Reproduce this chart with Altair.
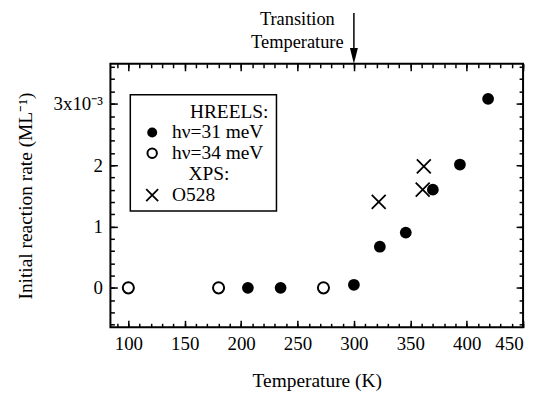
import altair as alt
import pandas as pd

# ---- data (rate in units of 1e-3 ML^-1) ----
t_31 = [206, 235, 300, 323, 346, 370, 394, 419]
r_31 = [0.0, 0.0, 0.05, 0.67, 0.90, 1.60, 2.01, 3.08]
t_34 = [100, 180, 273]
r_34 = [0.0, 0.0, 0.0]
t_xps = [322, 362, 361]
r_xps = [1.40, 1.98, 1.60]

x_major = [100, 150, 200, 250, 300, 350, 400, 450]
x_minor = list(range(90, 451, 10))
y_major = [0, 1, 2, 3]
y_minor = [round(-0.6 + 0.2 * i, 1) for i in range(22)]

legend_head = ["HREELS:", "XPS:"]
legend_items = ["h\u03bd=31 meV", "h\u03bd=34 meV", "O528"]

FONT = "Liberation Serif"
W, H = 415, 265
xs = alt.Scale(domain=[84.1, 450], nice=False, zero=False)
ys = alt.Scale(domain=[-0.643, 3.651], nice=False, zero=False)

df31 = pd.DataFrame({"T": t_31, "r": r_31})
df34 = pd.DataFrame({"T": t_34, "r": r_34})
dfx = pd.DataFrame({"T": t_xps, "r": r_xps})
carrier = pd.DataFrame({"T": [100], "r": [0.0]})
one = pd.DataFrame({"a": [0]})

X_PATH = "M-1,-1L1,1M-1,1L1,-1"


def xaxis(orient, values, size, labels, title="", **kw):
    return alt.Chart(carrier).mark_point(opacity=0).encode(
        x=alt.X("T:Q", scale=xs, axis=alt.Axis(
            orient=orient, values=values, tickSize=size, offset=-size,
            labels=labels, domain=False, grid=False, title=title,
            tickColor="black", tickWidth=1.5, **kw)),
        y=alt.Y("r:Q", scale=ys, axis=None),
    )


def yaxis(orient, values, size, labels, title="", **kw):
    return alt.Chart(carrier).mark_point(opacity=0).encode(
        x=alt.X("T:Q", scale=xs, axis=None),
        y=alt.Y("r:Q", scale=ys, axis=alt.Axis(
            orient=orient, values=values, tickSize=size, offset=-size,
            labels=labels, domain=False, grid=False, title=title,
            tickColor="black", tickWidth=1.5, **kw)),
    )


axes = [
    xaxis("bottom", x_major, 7, True, title="Temperature (K)",
          labelPadding=7, labelFontSize=19, labelFont=FONT, labelColor="black",
          titleFont=FONT, titleFontSize=19.5, titleFontWeight="normal",
          titleColor="black", titlePadding=19),
    xaxis("bottom", x_minor, 4, False),
    xaxis("top", x_major, 7, False),
    xaxis("top", x_minor, 4, False),
    yaxis("left", y_major, 7, True, title="Initial reaction rate (ML\u207b\u00b9)",
          labelPadding=8, labelFontSize=19, labelFont=FONT, labelColor="black",
          labelExpr="datum.value == 3 ? '3x10\u207b\u00b3' : format(datum.value, 'd')",
          titleFont=FONT, titleFontSize=19.5, titleFontWeight="normal",
          titleColor="black", titlePadding=18),
    yaxis("left", y_minor, 4, False),
    yaxis("right", y_major, 7, False),
    yaxis("right", y_minor, 4, False),
]

enc = dict(x=alt.X("T:Q", scale=xs, axis=None), y=alt.Y("r:Q", scale=ys, axis=None))
filled = alt.Chart(df31).mark_point(shape="circle", filled=True, color="black",
                                    size=140, opacity=1).encode(**enc)
opened = alt.Chart(df34).mark_point(shape="circle", filled=False, color="black",
                                    size=125, strokeWidth=2, opacity=1).encode(**enc)
crosses = alt.Chart(dfx).mark_point(shape=X_PATH, filled=False, color="black",
                                    size=196, strokeWidth=1.8, opacity=1).encode(**enc)

# ---- legend box ----
box = alt.Chart(one).mark_rect(fill="white", stroke="black", strokeWidth=1.5).encode(
    x=alt.value(20), x2=alt.value(167), y=alt.value(31), y2=alt.value(148))


def txt(s, x, y, align="left", size=19.5):
    return alt.Chart(one).mark_text(text=s, align=align, baseline="middle",
                                    font=FONT, fontSize=size, color="black").encode(
        x=alt.value(x), y=alt.value(y))


leg = [
    box,
    txt(legend_head[0], 159, 48, "right"),
    txt(legend_items[0], 62, 69),
    txt(legend_items[1], 62, 90),
    txt(legend_head[1], 99, 111, "center"),
    txt(legend_items[2], 62, 132),
    alt.Chart(one).mark_point(shape="circle", filled=True, color="black", size=100,
                              opacity=1).encode(x=alt.value(42), y=alt.value(69)),
    alt.Chart(one).mark_point(shape="circle", filled=False, color="black", size=90,
                              strokeWidth=2, opacity=1).encode(x=alt.value(42), y=alt.value(90)),
    alt.Chart(one).mark_point(shape=X_PATH, filled=False, color="black", size=144,
                              strokeWidth=1.8, opacity=1).encode(x=alt.value(42), y=alt.value(132)),
]

# ---- transition annotation ----
arrow_line = alt.Chart(one).mark_rule(color="black", strokeWidth=1.5).encode(
    x=alt.X(datum=300, scale=xs, axis=None), y=alt.value(-51), y2=alt.value(-10))
arrow_head = alt.Chart(one).mark_point(shape="M-0.5,-1L0.5,-1L0,1Z", filled=True,
                                       color="black", size=256, opacity=1).encode(
    x=alt.X(datum=300, scale=xs, axis=None), y=alt.value(-8))
ann = [txt("Transition", 188, -45, "center", 18.5),
       txt("Temperature", 188, -22, "center", 18.5)]

chart = alt.layer(*axes, filled, opened, crosses, *leg, arrow_line, arrow_head, *ann).resolve_axis(
    x="independent", y="independent"
).properties(
    width=W, height=H,
    autosize=alt.AutoSizeParams(type="none"),
    padding={"left": 103, "top": 55, "right": 12, "bottom": 76},
).configure(background="white").configure_view(stroke="black", strokeWidth=2)

chart.save("out.html", embed_options={"renderer": "svg", "actions": False})
